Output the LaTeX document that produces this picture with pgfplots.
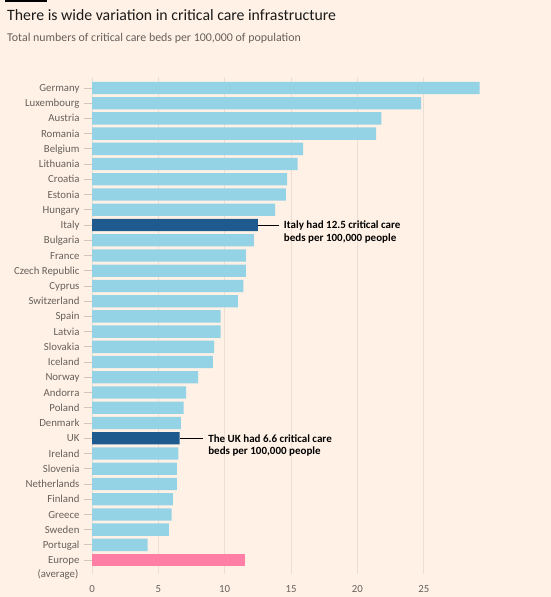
\documentclass[border=0pt]{standalone}
\usepackage{pgfplots}
\pgfplotsset{compat=1.18}
\usepackage{fontspec}
\setmainfont{Carlito}
\definecolor{bg}{HTML}{FFF1E5}
\definecolor{lblue}{HTML}{94D2E6}
\definecolor{dblue}{HTML}{1F5A8E}
\definecolor{pinkbar}{HTML}{FF7FA5}
\definecolor{gridc}{HTML}{EADFD4}
\definecolor{tickc}{HTML}{D2C7BD}
\definecolor{txtgrey}{HTML}{66605C}
\definecolor{titlec}{HTML}{1A1A1A}
\pgfplotstableread{
idx val
0 29.2
1 24.8
2 21.8
3 21.4
4 15.9
5 15.5
6 14.7
7 14.6
8 13.8
10 12.2
11 11.6
12 11.6
13 11.4
14 11.0
15 9.7
16 9.7
17 9.2
18 9.1
19 8.0
20 7.1
21 6.9
22 6.7
24 6.5
25 6.4
26 6.4
27 6.1
28 6.0
29 5.8
30 4.2
}\lightdata
\pgfplotstableread{
idx val
9 12.5
23 6.6
}\darkdata
\pgfplotstableread{
idx val
31 11.5
}\eudata
\begin{document}
\begin{tikzpicture}[x=1pt,y=1pt]
\fill[bg] (0,0) rectangle (551,597);
\useasboundingbox (0,0) rectangle (551,597);
\fill[black] (5,594.5) rectangle (47,597);
\node[anchor=base west, inner sep=0, font=\fontsize{15.8}{18}\selectfont, text=titlec] at (7,576) {There is wide variation in critical care infrastructure};
\node[anchor=base west, inner sep=0, font=\fontsize{11.9}{14}\selectfont, text=txtgrey] at (7,555) {Total numbers of critical care beds per 100,000 of population};
\begin{axis}[
  at={(92pt,23.2pt)}, anchor=south west,
  scale only axis,
  width=391.5pt, height=497.3pt,
  xmin=0, xmax=29.5,
  ymin=-0.75, ymax=31.9,
  y dir=reverse,
  xbar, bar width=12.3pt, bar shift=0pt,
  axis line style={draw=none},
  xtick={0,5,10,15,20,25},
  xmajorgrids, grid style={gridc, line width=0.8pt},
  xtick style={draw=none},
  xticklabel style={text=txtgrey, font=\fontsize{10.8}{12}\selectfont, yshift=-1pt},
  ytick={0,...,31},
  ytick pos=left,
  yticklabels={Germany,Luxembourg,Austria,Romania,Belgium,Lithuania,Croatia,Estonia,Hungary,Italy,Bulgaria,France,Czech Republic,Cyprus,Switzerland,Spain,Latvia,Slovakia,Iceland,Norway,Andorra,Poland,Denmark,UK,Ireland,Slovenia,Netherlands,Finland,Greece,Sweden,Portugal,Europe},
  yticklabel style={text=txtgrey, font=\fontsize{10.8}{14}\selectfont, anchor=base east, yshift=-3.6pt, xshift=-1.5pt},
  tick align=outside,
  ytick style={draw=tickc, line width=0.8pt},
  major tick length=7.5pt,
  /pgf/number format/assume math mode=true,
  clip=false,
]
\addplot[fill=lblue, draw=none] table[x=val, y=idx] {\lightdata};
\addplot[fill=dblue, draw=none] table[x=val, y=idx] {\darkdata};
\addplot[fill=pinkbar, draw=none] table[x=val, y=idx] {\eudata};
\node[anchor=base east, inner sep=0, text=txtgrey, font=\fontsize{10.8}{14}\selectfont] at ([xshift=-13.5pt,yshift=-17.5pt]axis cs:0,31) {(average)};
\draw[black, line width=0.6pt] (axis cs:12.5,9) -- (axis cs:14.1,9);
\node[anchor=west, inner sep=0, font=\bfseries\fontsize{11}{12}\selectfont] at (axis cs:14.45,9) {Italy had 12.5 critical care};
\node[anchor=west, inner sep=0, font=\bfseries\fontsize{11}{12}\selectfont] at (axis cs:14.45,9.9) {beds per 100,000 people};
\draw[black, line width=0.6pt] (axis cs:6.6,23) -- (axis cs:8.35,23);
\node[anchor=west, inner sep=0, font=\bfseries\fontsize{11}{12}\selectfont] at (axis cs:8.75,23) {The UK had 6.6 critical care};
\node[anchor=west, inner sep=0, font=\bfseries\fontsize{11}{12}\selectfont] at (axis cs:8.75,23.9) {beds per 100,000 people};
\end{axis}
\end{tikzpicture}
\end{document}
